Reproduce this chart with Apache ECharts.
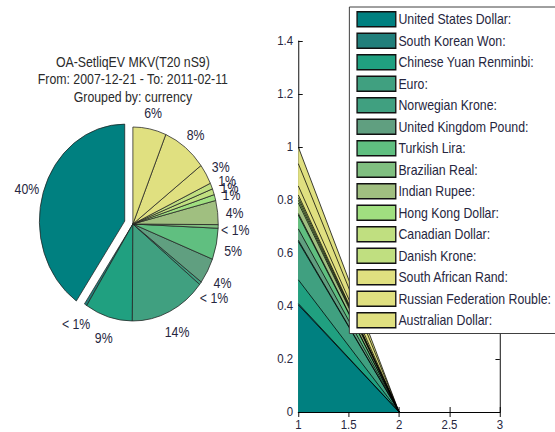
<!DOCTYPE html>
<html>
<head>
    <meta charset="utf-8">
    <title>OA-SetliqEV MKV</title>
    <script src="https://cdn.jsdelivr.net/npm/echarts@6/dist/echarts.min.js"></script>
    <style>
        body { margin: 0; background: #fff; overflow: hidden; }
        /* the reference is squeezed horizontally, so draw wide and scale down */
        #chart1 { width: 631px; height: 432px; transform: scaleX(0.88); transform-origin: 0 0; }
    </style>
</head>
<body>
<div id="chart1"></div>
<script type="text/javascript">
    // currencies, in pie / stack order
    var currencies = ['United States Dollar', 'South Korean Won', 'Chinese Yuan Renminbi', 'Euro',
        'Norwegian Krone', 'United Kingdom Pound', 'Turkish Lira', 'Brazilian Real', 'Indian Rupee',
        'Hong Kong Dollar', 'Canadian Dollar', 'Danish Krone', 'South African Rand',
        'Russian Federation Rouble', 'Australian Dollar'];
    // share of MKV in percent
    var shares = [40.4, 0.5, 9.0, 14.4, 0.5, 4.3, 5.2, 0.6, 4.0, 1.0, 1.0, 1.0, 3.4, 8.4, 6.3];
    var colors = ['#008080', '#217f7b', '#20a080', '#40a080', '#40a080', '#609f80', '#60bf80',
        '#80bf80', '#a0bf80', '#a0df80', '#c0df80', '#c0df80', '#e0e080', '#e0e080', '#e0e080'];
    var exploded = 0;   // index of the slice pulled out of the pie
    // x positions of the stacked area chart (share at x=1, nothing at x=2)
    var areaX = [1, 2];
    var xTicks = { min: 1, max: 3, interval: 0.5 };
    var yTicks = { min: 0, max: 1.4, interval: 0.2 };

    var total = shares.reduce(function (a, b) { return a + b; }, 0);
    var pieCx = 151, pieCy = 224, pieR = 97;
    var txt = '#262640';
    var font = 'Liberation Sans, Arial, sans-serif';

    var myChart1 = echarts.init(document.getElementById('chart1'), null, { renderer: 'svg' });

    // middle angle of a slice (pie starts at the top and runs counter-clockwise)
    function midAngle(idx) {
        var before = 0;
        for (var i = 0; i < idx; i++) before += shares[i];
        return Math.PI / 2 + 2 * Math.PI * (before + shares[idx] / 2) / total;
    }

    // the exploded slice is drawn by a second pie whose centre is pushed out by 0.1 r
    var aEx = midAngle(exploded);
    var exCx = pieCx + 0.1 * pieR * Math.cos(aEx);
    var exCy = pieCy - 0.1 * pieR * Math.sin(aEx);

    function pieItems(showIdx) {
        return currencies.map(function (n, i) {
            var on = showIdx(i);
            return {
                name: n,
                value: shares[i],
                itemStyle: on ? { color: colors[i] } : { color: 'rgba(0,0,0,0)', borderWidth: 0 },
                label: { show: on }
            };
        });
    }

    function pieSeries(cx, cy, data) {
        return {
            type: 'pie',
            center: [cx, cy],
            radius: pieR,
            startAngle: 90,
            clockwise: false,
            avoidLabelOverlap: false,
            legendHoverLink: false,
            silent: true,
            emphasis: { disabled: true },
            itemStyle: { borderColor: '#222', borderWidth: 0.8 },
            label: {
                position: 'outside',
                fontFamily: font,
                fontSize: 14,
                color: txt,
                formatter: function (p) {
                    var pc = p.value / total * 100;
                    return pc < 1 ? '< 1%' : Math.round(pc) + '%';
                }
            },
            labelLine: { show: false },
            // labels centred at 1.2 radius on the slice middle
            labelLayout: function (p) {
                var a = midAngle(p.dataIndex);
                return {
                    x: cx + 1.2 * pieR * Math.cos(a),
                    y: cy + 3 - 1.2 * pieR * Math.sin(a),
                    align: 'center',
                    verticalAlign: 'middle'
                };
            },
            data: data
        };
    }

    // running totals, each area filled from 0 up to its running total;
    // drawn top-down so the lower bands cover the higher ones (same look as a stack)
    var cum = [], run = 0;
    shares.forEach(function (s) { run += s; cum.push(run / total); });
    var areaSeries = [];
    for (var i = currencies.length - 1; i >= 0; i--) {
        areaSeries.push({
            name: currencies[i],
            type: 'line',
            symbol: 'none',
            color: colors[i],
            lineStyle: { color: '#000', width: 0.8 },
            areaStyle: { color: colors[i], opacity: 1, origin: 'start' },
            data: areaX.map(function (x, j) { return [x, j === 0 ? cum[i] : 0]; })
        });
    }

    myChart1.setOption({
        animation: false,
        title: {
            text: 'OA-SetliqEV MKV(T20 nS9)\nFrom: 2007-12-21 - To: 2011-02-11\nGrouped by: currency',
            left: pieCx,
            top: 53,
            padding: 0,
            textAlign: 'center',
            textStyle: { fontFamily: font, fontSize: 14, fontWeight: 'normal', color: '#2a2a2a', lineHeight: 17.5 }
        },
        legend: {
            orient: 'vertical',
            left: 397,
            top: 7,
            z: 10,
            padding: [4, 8, 5, 8],
            itemWidth: 44,
            itemHeight: 15,
            itemGap: 5,
            icon: 'rect',
            backgroundColor: '#fff',
            borderColor: '#333',
            borderWidth: 1,
            itemStyle: { borderColor: '#111', borderWidth: 1.5 },
            textStyle: { fontFamily: font, fontSize: 14, color: txt, padding: [0, 0, 0, -2] },
            formatter: function (name) { return name + ':'; },
            data: currencies
        },
        grid: { left: 339, right: 63, top: 41, bottom: 20 },
        xAxis: [{
            type: 'value', position: 'bottom',
            min: xTicks.min, max: xTicks.max, interval: xTicks.interval,
            axisLine: { lineStyle: { color: '#000' } },
            axisTick: { inside: true, length: 5, lineStyle: { color: '#000' } },
            axisLabel: { fontFamily: font, fontSize: 13, color: txt, margin: 6 },
            splitLine: { show: false }
        }, {
            type: 'value', position: 'top',
            min: xTicks.min, max: xTicks.max, interval: xTicks.interval,
            axisLine: { lineStyle: { color: '#000' } },
            axisTick: { inside: true, length: 5, lineStyle: { color: '#000' } },
            axisLabel: { show: false },
            splitLine: { show: false }
        }],
        yAxis: [{
            type: 'value', position: 'left',
            min: yTicks.min, max: yTicks.max, interval: yTicks.interval,
            axisLine: { show: true, lineStyle: { color: '#000' } },
            axisTick: { show: true, inside: true, length: 5, lineStyle: { color: '#000' } },
            axisLabel: { fontFamily: font, fontSize: 13, color: txt, margin: 6 },
            splitLine: { show: false }
        }, {
            type: 'value', position: 'right',
            min: yTicks.min, max: yTicks.max, interval: yTicks.interval,
            axisLine: { show: true, lineStyle: { color: '#000' } },
            axisTick: { show: true, inside: true, length: 5, lineStyle: { color: '#000' } },
            axisLabel: { show: false },
            splitLine: { show: false }
        }],
        series: areaSeries.concat([
            pieSeries(pieCx, pieCy, pieItems(function (i) { return i !== exploded; })),
            pieSeries(exCx, exCy, pieItems(function (i) { return i === exploded; }))
        ])
    });
</script>
</body>
</html>
